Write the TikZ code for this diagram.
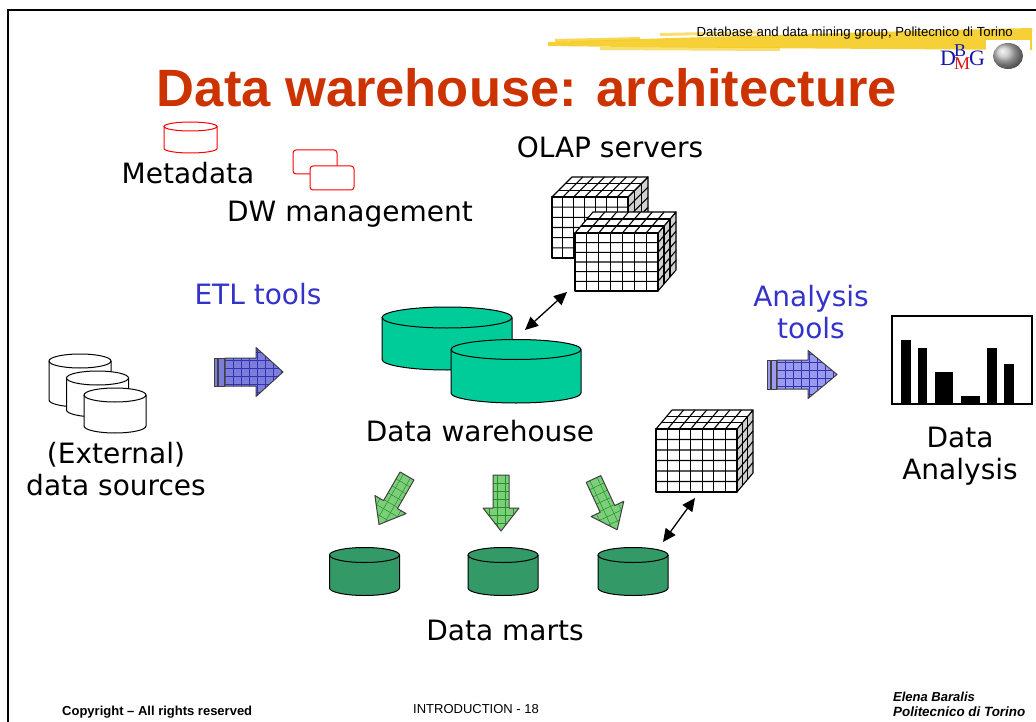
\documentclass[tikz,border=0pt]{standalone}
\usepackage{fontspec}
\setmainfont{DejaVu Sans}
\newfontfamily\arialfont{Liberation Sans}
\newfontfamily\seriffont{Liberation Serif}
\usetikzlibrary{arrows.meta}
\definecolor{titlered}{RGB}{204,51,0}
\definecolor{toolblue}{RGB}{51,51,204}
\definecolor{dwteal}{RGB}{0,204,153}
\definecolor{martgreen}{RGB}{51,153,102}
\definecolor{etlfill}{RGB}{125,125,220}
\definecolor{etlgrid}{RGB}{50,50,180}
\definecolor{anfill}{RGB}{155,155,238}
\definecolor{grfill}{RGB}{125,205,125}
\definecolor{grgrid}{RGB}{30,150,30}
\definecolor{hlyellow}{RGB}{245,200,20}
\definecolor{logoblue}{RGB}{20,20,170}
\definecolor{logored}{RGB}{220,20,20}

\newcommand\mycyl[7]{%
  \fill[#6] ({#1-#3},#2) rectangle ({#1+#3},#5);
  \fill[#6] (#1,#5) ellipse [x radius=#3pt, y radius=#4pt];
  \fill[#6] (#1,#2) ellipse [x radius=#3pt, y radius=#4pt];
  \draw[#7] ({#1-#3},#2) -- ({#1-#3},#5) arc[start angle=180,end angle=360,x radius=#3pt,y radius=#4pt] -- ({#1+#3},#2);
  \draw[#7] (#1,#2) ellipse [x radius=#3pt, y radius=#4pt];
}

\newcommand\olapcube[6]{%
 \begin{scope}[line width=1.1pt, line join=round]
  \filldraw[fill=black!18] ({#1+#3},#2) -- ({#1+#3+#5},{#2-#6}) -- ({#1+#3+#5},{#2+#4-#6}) -- ({#1+#3},{#2+#4}) -- cycle;
  \filldraw[fill=white] (#1,#2) -- ({#1+#5},{#2-#6}) -- ({#1+#3+#5},{#2-#6}) -- ({#1+#3},#2) -- cycle;
  \filldraw[fill=white] (#1,#2) rectangle ({#1+#3},{#2+#4});
  \foreach \i in {1,...,6} {
    \draw ({#1+\i*#3/7},#2) -- ({#1+\i*#3/7},{#2+#4});
    \draw ({#1+\i*#3/7},#2) -- ({#1+\i*#3/7+#5},{#2-#6});
  }
  \foreach \j in {1,...,5} {
    \draw (#1,{#2+\j*#4/6}) -- ({#1+#3},{#2+\j*#4/6}) -- ({#1+#3+#5},{#2+\j*#4/6-#6});
  }
  \foreach \k in {1,2} {
    \draw ({#1+\k*#5/3},{#2-\k*#6/3}) -- ({#1+#3+\k*#5/3},{#2-\k*#6/3}) -- ({#1+#3+\k*#5/3},{#2+#4-\k*#6/3});
  }
 \end{scope}}

\newcommand\blockarrow[9]{%
 \begin{scope}[shift={(#1,#2)}, rotate=#3]
  \fill[#8] (0,-#6) -- (#5,-#6) -- (#5,-#7) -- (#4,0) -- (#5,#7) -- (#5,#6) -- (0,#6) -- cycle;
  \begin{scope}
   \clip (0,-#6) -- (#5,-#6) -- (#5,-#7) -- (#4,0) -- (#5,#7) -- (#5,#6) -- (0,#6) -- cycle;
   \foreach \u in {8,16,...,72} \draw[#9, line width=.5pt] (\u,-30) -- (\u,30);
   \foreach \v in {-28,-20,...,28} \draw[#9, line width=.5pt] (0,\v) -- (72,\v);
  \end{scope}
  \draw[black!75, line width=1pt, line join=round] (0,-#6) -- (#5,-#6) -- (#5,-#7) -- (#4,0) -- (#5,#7) -- (#5,#6) -- (0,#6) -- cycle;
 \end{scope}}

\tikzset{
  lbl/.style={font=\fontsize{28}{32}\selectfont, inner sep=0pt, anchor=base},
  bluelbl/.style={lbl, text=toolblue},
  dblarrow/.style={{Triangle[length=13pt,width=12pt]}-{Triangle[length=13pt,width=12pt]}, line width=1.3pt},
  foot/.style={font=\arialfont\fontsize{13}{15}\selectfont, inner sep=0pt},
}

\begin{document}
\begin{tikzpicture}[x=1pt, y=-1pt]
\useasboundingbox (0,0) rectangle (1036,722);
\fill[white] (0,0) rectangle (1036,722);

% header highlight
\fill[hlyellow, opacity=.85] (548,42) .. controls (700,37) and (900,31) .. (1032,28) -- (1032,50) .. controls (900,49) and (700,48) .. (548,46) -- cycle;
\fill[hlyellow, opacity=.7] (555,39) -- (640,37) -- (640,40) -- (555,42) -- cycle;
\fill[hlyellow, opacity=.6] (600,47) -- (780,47) -- (780,51) -- (600,50) -- cycle;
\fill[hlyellow, opacity=.6] (660,33) -- (760,31) -- (760,34) -- (660,36) -- cycle;
\node[font=\arialfont\fontsize{13.2}{15}\selectfont, inner sep=0pt, anchor=base east] (header) at (1013,37) {Database and data mining group, Politecnico di Torino};

% frame
\draw[line width=2pt] (8,722) -- (8,10) -- (1036,10);

% logo
\fill[white] (986,40) rectangle (1030,71);
\node[font=\seriffont\fontsize{22}{24}\selectfont, text=logoblue, inner sep=0pt, anchor=base west] (logo) at (940,66)
  {D\kern-2pt\rlap{\raisebox{9.5pt}{\fontsize{18}{20}\selectfont B}}\raisebox{-4pt}{\fontsize{18}{20}\selectfont\color{logored}M}\kern-1pt G};
\shade[ball color=black!25] (1008,56) ellipse [x radius=15pt, y radius=13pt];
\fill[black!60] (1004,66) circle [radius=2pt];

% title
\node[font=\arialfont\bfseries\fontsize{52.5}{60}\selectfont, text=titlered, inner sep=0pt, anchor=base] (title) at (527,107) {Data warehouse: architecture};

% metadata & DW management icons
\mycyl{190.5}{126.5}{26.5}{4.5}{148.5}{white}{red, line width=1pt}
\node[lbl] (metadata) at (188,184) {Metadata};
\draw[red, line width=1pt, fill=white, rounded corners=3pt] (293,150) rectangle (337,174);
\draw[red, line width=1pt, fill=white, rounded corners=3pt] (310,166) rectangle (354,190);
\node[lbl] (dwman) at (350,222) {DW management};

% OLAP servers
\node[lbl] (olap) at (610,158) {OLAP servers};
\olapcube{552}{197}{76}{61}{20}{20}
\olapcube{575}{233}{83}{58}{18}{21}

% ETL tools
\node[bluelbl] (etl) at (258,304) {ETL tools};
\filldraw[fill=etlfill, draw=black!75, line width=1pt] (214,358) rectangle (217,386);
\filldraw[fill=etlfill, draw=black!75, line width=1pt] (218,358) rectangle (224,386);
\blockarrow{225}{372}{0}{58}{31}{14}{24.5}{etlfill}{etlgrid}

% external sources
\mycyl{80}{361}{31}{7}{400}{white}{black, line width=1pt}
\mycyl{97.5}{378}{31}{7}{410}{white}{black, line width=1pt}
\mycyl{115}{395}{31}{7}{426}{white}{black, line width=1pt}
\node[lbl] (ext1) at (116,463) {(External)};
\node[lbl] (ext2) at (116,495) {data sources};

% data warehouse
\mycyl{447}{317.5}{65}{10.5}{359.5}{dwteal}{black, line width=1pt}
\mycyl{516}{349.5}{65}{10}{393}{dwteal}{black, line width=1pt}
\node[lbl] (dw) at (480,441) {Data warehouse};
\coordinate (dwlink) at (525,330);
\coordinate (olaplink) at (567,292);
\draw[dblarrow] (dwlink) -- (olaplink);

% analysis tools
\node[bluelbl] (an1) at (811,306) {Analysis};
\node[bluelbl] (an2) at (811,338) {tools};
\filldraw[fill=anfill, draw=black!75, line width=1pt] (767,360) rectangle (770,389);
\filldraw[fill=anfill, draw=black!75, line width=1pt] (771,360) rectangle (776,389);
\blockarrow{777}{374.5}{0}{60}{31}{14.5}{24}{anfill}{etlgrid}

% bar chart
\draw[line width=1.5pt, fill=white] (892,316) rectangle (1032,404);
\fill[black] (901,340) rectangle (911,403);
\fill[black] (918,348) rectangle (927,403);
\fill[black] (935,372) rectangle (953,403);
\fill[black] (961,396) rectangle (980,403);
\fill[black] (987,348) rectangle (997,403);
\fill[black] (1004,364) rectangle (1014,403);
\node[lbl] (da1) at (960,447) {Data};
\node[lbl] (da2) at (960,479) {Analysis};

% green arrows
\blockarrow{407}{476}{-120}{56}{33}{8}{18}{grfill}{grgrid}
\blockarrow{501}{475}{-90}{56}{33}{8}{18}{grfill}{grgrid}
\blockarrow{593.5}{479}{-65}{56}{33}{8}{18}{grfill}{grgrid}

% third cube
\olapcube{656}{429}{81}{63}{16}{19}
\coordinate (cubelink) at (695,498);
\coordinate (martlink) at (663,542);
\draw[dblarrow] (cubelink) -- (martlink);

% data marts
\mycyl{364.5}{555}{35}{7.5}{588}{martgreen}{black, line width=1pt}
\mycyl{503}{555}{35}{7.5}{588}{martgreen}{black, line width=1pt}
\mycyl{633}{555}{35}{7.5}{588}{martgreen}{black, line width=1pt}
\node[lbl] (marts) at (505,640) {Data marts};

% footer
\node[foot, font=\arialfont\bfseries\fontsize{13}{15}\selectfont, anchor=base west] (copy) at (62,715) {Copyright – All rights reserved};
\node[foot, anchor=base west] (intro) at (413,713) {INTRODUCTION - 18};
\node[foot, font=\arialfont\bfseries\itshape\fontsize{13}{15}\selectfont, anchor=base west] (author) at (893,701) {Elena Baralis};
\node[foot, font=\arialfont\bfseries\itshape\fontsize{13.4}{15}\selectfont, anchor=base west] (inst) at (893,716) {Politecnico di Torino};
\end{tikzpicture}
\end{document}
